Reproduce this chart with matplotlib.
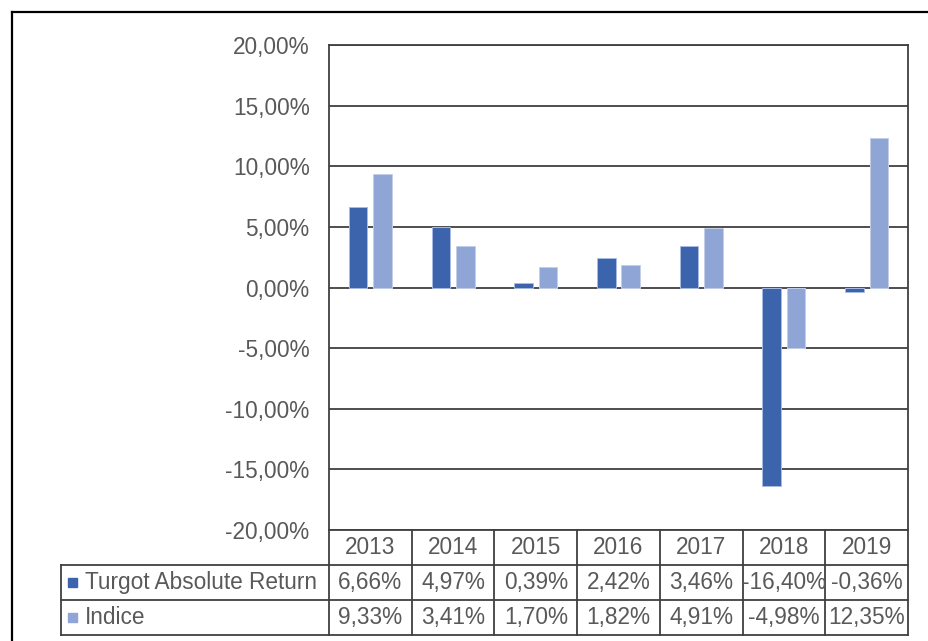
import matplotlib.pyplot as plt
import matplotlib.transforms as mtransforms
from matplotlib.lines import Line2D
from matplotlib.patches import Rectangle
import numpy as np

years = ['2013', '2014', '2015', '2016', '2017', '2018', '2019']
turgot = [6.66, 4.97, 0.39, 2.42, 3.46, -16.40, -0.36]
indice = [9.33, 3.41, 1.70, 1.82, 4.91, -4.98, 12.35]
series_names = ['Turgot Absolute Return', 'Indice']
y_ticks = [-20, -15, -10, -5, 0, 5, 10, 15, 20]

DARK = '#3c64ad'
LIGHT = '#8fa5d5'
TEXT = '#595959'
LINE = '#404040'
FS = 16.3

plt.rcParams['font.family'] = ['Liberation Sans', 'DejaVu Sans']

W, H = 929, 641
fig = plt.figure(figsize=(W / 100, H / 100), dpi=100)


def fx(px):
    return px / W


def fy(py):
    return 1 - py / H


def pct(v):
    return f'{v:.2f}%'.replace('.', ',')


# plot area
ax = fig.add_axes([fx(329), fy(530), fx(908) - fx(329), fy(45) - fy(530)])
x = np.arange(len(years))
ax.bar(x - 0.148, turgot, width=0.224, color=DARK, edgecolor='#a9bbe2', linewidth=0.7, zorder=3)
ax.bar(x + 0.148, indice, width=0.224, color=LIGHT, edgecolor='#c3cfea', linewidth=0.7, zorder=3)
ax.set_xlim(-0.5, len(years) - 0.5)
ax.set_ylim(-20, 20)
ax.set_yticks(y_ticks)
ax.set_yticklabels([pct(t) for t in y_ticks])
ax.set_xticks([])
ax.grid(axis='y', color=LINE, linewidth=1.3, zorder=0)
ax.tick_params(length=0, pad=14, labelsize=FS, labelcolor=TEXT)
for s in ax.spines.values():
    s.set_color(LINE)
    s.set_linewidth(1.3)

# data table below the plot
rows_y = [530, 564.5, 600, 635]
blend = mtransforms.blended_transform_factory(ax.transData, fig.transFigure)
x_right = ax.get_position().x1
for i in range(len(years) + 1):
    fig.add_artist(Line2D([i - 0.5, i - 0.5], [fy(rows_y[0]), fy(rows_y[-1])],
                          transform=blend, color=LINE, linewidth=1.3))
fig.add_artist(Line2D([fx(61), fx(61)], [fy(rows_y[1]), fy(rows_y[-1])],
                      transform=fig.transFigure, color=LINE, linewidth=1.3))
for yy in rows_y[1:]:
    fig.add_artist(Line2D([fx(61), x_right], [fy(yy), fy(yy)],
                          transform=fig.transFigure, color=LINE, linewidth=1.3))

for i, yr in enumerate(years):
    fig.text(i, fy((rows_y[0] + rows_y[1]) / 2), yr, transform=blend,
             ha='center', va='center', fontsize=FS, color=TEXT)

for r, (name, vals, col) in enumerate(zip(series_names, [turgot, indice], [DARK, LIGHT])):
    yc = (rows_y[r + 1] + rows_y[r + 2]) / 2
    fig.add_artist(Rectangle((fx(68), fy(yc + 4.5)), fx(9), 9 / H,
                             transform=fig.transFigure, color=col))
    fig.text(fx(85), fy(yc), name, ha='left', va='center', fontsize=FS, color=TEXT)
    for i, v in enumerate(vals):
        fig.text(i, fy(yc), pct(v), transform=blend,
                 ha='center', va='center', fontsize=FS, color=TEXT)

# outer chart frame (only top and left edges visible)
fig.add_artist(Line2D([fx(12), 1], [fy(12), fy(12)], transform=fig.transFigure,
                      color='black', linewidth=1.6))
fig.add_artist(Line2D([fx(12), fx(12)], [fy(12), 0], transform=fig.transFigure,
                      color='black', linewidth=1.6))

fig.savefig('out.png', dpi=100)
